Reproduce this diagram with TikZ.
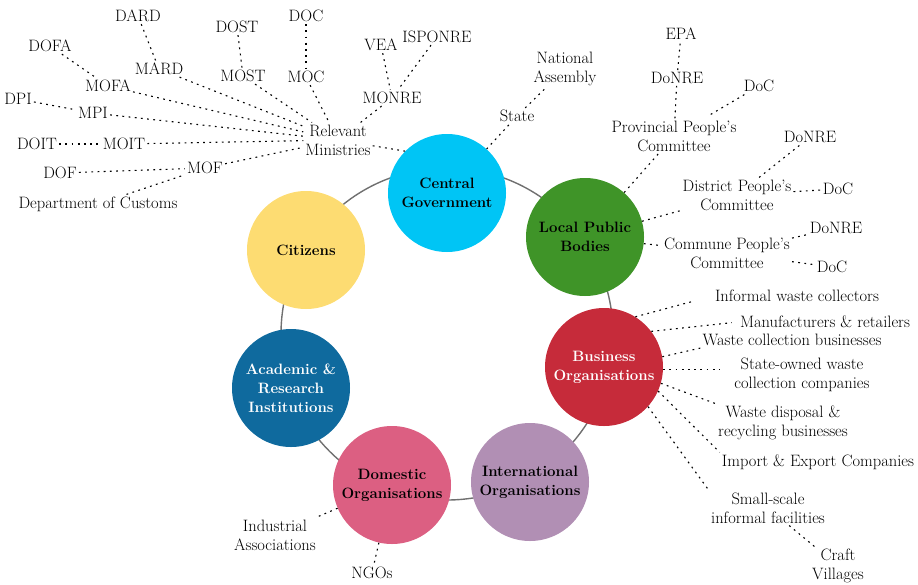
\documentclass[tikz,border=0pt]{standalone}
\definecolor{cgblue}{HTML}{00C5F5}
\definecolor{lpgreen}{HTML}{3F9428}
\definecolor{bored}{HTML}{C62B3A}
\definecolor{iolilac}{HTML}{B18FB4}
\definecolor{dopink}{HTML}{DC5F82}
\definecolor{acblue}{HTML}{0F6A9E}
\definecolor{ctyellow}{HTML}{FDDC72}
\definecolor{ringgray}{HTML}{707070}
\tikzset{
  actor/.style={circle, minimum size=118pt, inner sep=0pt, align=center,
    font=\bfseries\fontsize{15}{19}\selectfont},
  lbl/.style={align=center, inner sep=2pt, font=\fontsize{16.5}{19}\selectfont},
  link/.style={dash pattern=on 1.8pt off 4.4pt, line width=1.1pt},
  ring/.style={draw=ringgray, line width=1.4pt}
}
\begin{document}
\begin{tikzpicture}[x=1pt,y=-1pt]
  \useasboundingbox (0,0) rectangle (918,584);
  % ring and actors
  \draw[ring] (447,334) circle[radius=166pt];
  \node[actor, fill=cgblue] (cg) at (447,193) {Central\\Government};
  \node[actor, fill=lpgreen] (lp) at (585,237) {Local Public\\Bodies};
  \node[actor, fill=bored, text=white] (bus) at (604,367) {Business\\Organisations};
  \node[actor, fill=iolilac] (io) at (530,482) {International\\Organisations};
  \node[actor, fill=dopink] (dom) at (392,485) {Domestic\\Organisations};
  \node[actor, fill=acblue, text=white] (acad) at (291,388) {Academic \&\\Research\\Institutions};
  \node[actor, fill=ctyellow] (cit) at (306,250) {Citizens};

  % central government
  \node[lbl] (rel) at (338,140) {Relevant\\Ministries};
  \node[lbl] (state) at (517,116) {State};
  \node[lbl] (na) at (565,69) {National\\Assembly};
  \node[lbl] (mard) at (159,69) {MARD};
  \node[lbl] (dard) at (138,16) {DARD};
  \node[lbl] (most) at (243,76) {MOST};
  \node[lbl] (dost) at (237,27) {DOST};
  \node[lbl] (moc) at (306,77) {MOC};
  \node[lbl] (doc) at (306,16) {DOC};
  \node[lbl] (monre) at (392,98) {MONRE};
  \node[lbl] (vea) at (381,45) {VEA};
  \node[lbl] (isponre) at (437,37) {ISPONRE};
  \node[lbl] (mofa) at (108,86) {MOFA};
  \node[lbl] (dofa) at (50,46) {DOFA};
  \node[lbl] (mpi) at (93,113) {MPI};
  \node[lbl] (dpi) at (18,99) {DPI};
  \node[lbl] (moit) at (124,144) {MOIT};
  \node[lbl] (doit) at (37,144) {DOIT};
  \node[lbl] (mof) at (205,168) {MOF};
  \node[lbl] (dof) at (60,173) {DOF};
  \node[lbl] (customs) at (98,204) {Department of Customs};

  \draw[link] (rel) -- (cg.135);
  \draw[link] (cg.48) -- (state);
  \draw[link] (state) -- (na);
  \foreach \m in {mard,most,moc,monre,mofa,mpi,moit,mof}
    \draw[link] (\m) -- (rel);
  \draw[link] (dard) -- (mard);
  \draw[link] (dost) -- (most);
  \draw[link] (doc) -- (moc);
  \draw[link] (vea) -- (monre);
  \draw[link] (isponre) -- (monre);
  \draw[link] (dofa) -- (mofa);
  \draw[link] (dpi) -- (mpi);
  \draw[link] (doit) -- (moit);
  \draw[link] (dof) -- (mof);
  \draw[link] (customs) -- (mof);

  % local public bodies
  \node[lbl] (prov) at (674,136) {Provincial People's\\Committee};
  \node[lbl] (donrep) at (677,78) {DoNRE};
  \node[lbl] (epa) at (681,34) {EPA};
  \node[lbl] (docp) at (759,86) {DoC};
  \node[lbl] (dist) at (737,195) {District People's\\Committee};
  \node[lbl] (donred) at (810,137) {DoNRE};
  \node[lbl] (docd) at (838,189) {DoC};
  \node[lbl] (comm) at (727,253) {Commune People's\\Committee};
  \node[lbl] (donrec) at (836,228) {DoNRE};
  \node[lbl] (docc) at (832,267) {DoC};

  \draw[link] (lp) -- (prov);
  \draw[link] (lp) -- (dist);
  \draw[link] (lp) -- (comm);
  \draw[link] (prov) -- (donrep);
  \draw[link] (donrep) -- (epa);
  \draw[link, shorten <=8pt] (prov) -- (docp);
  \draw[link] (dist) -- (donred);
  \draw[link] (dist) -- (docd);
  \draw[link] (comm) -- (donrec);
  \draw[link] (comm) -- (docc);

  % business organisations
  \node[lbl] (inf) at (797,296) {Informal waste collectors};
  \node[lbl] (manu) at (825,322) {Manufacturers \& retailers};
  \node[lbl] (wcb) at (792,340) {Waste collection businesses};
  \node[lbl] (stateown) at (802,375) {State-owned waste\\collection companies};
  \node[lbl] (disp) at (783,423) {Waste disposal \&\\recycling businesses};
  \node[lbl] (imp) at (818,462) {Import \& Export Companies};
  \node[lbl] (small) at (768,508) {Small-scale\\informal facilities};
  \node[lbl] (craft) at (838,566) {Craft\\Villages};

  \draw[link, shorten >=22pt] (bus.58) -- (inf.west);
  \draw[link, shorten >=6pt] (bus.37) -- (manu.west);
  \draw[link] (bus.10) -- (wcb.south west);
  \draw[link, shorten >=12pt] (bus.-2) -- (stateown.west |- bus.-2);
  \draw[link] (bus.-16) -- (disp.north west);
  \draw[link] (bus.-24) -- (imp.north west);
  \draw[link] (bus.-42) -- (small.north west);
  \draw[link] (small) -- (craft);

  % domestic organisations
  \node[lbl] (ind) at (275,535) {Industrial\\Associations};
  \node[lbl] (ngo) at (372,573) {NGOs};
  \draw[link] (dom) -- (ind);
  \draw[link] (dom) -- (ngo);
\end{tikzpicture}
\end{document}
